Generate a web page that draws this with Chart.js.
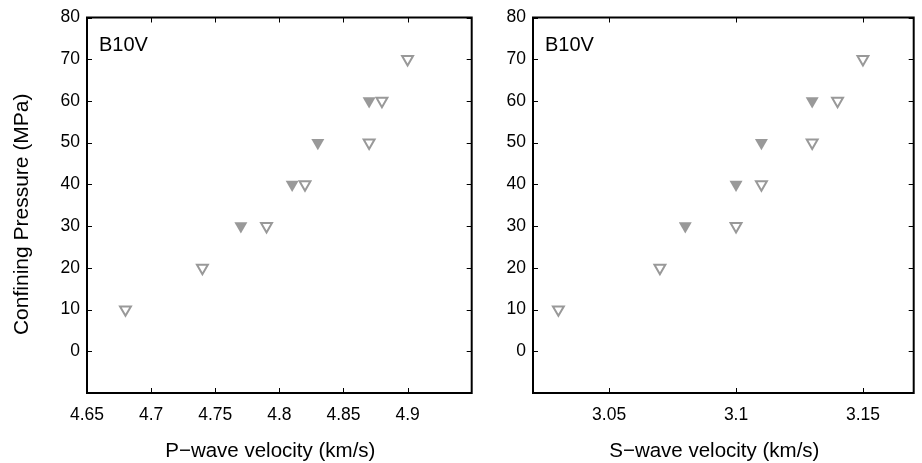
<!DOCTYPE html>
<html>
<head>
<meta charset="utf-8">
<script src="https://cdn.jsdelivr.net/npm/chart.js@4/dist/chart.umd.min.js"></script>
<style>
  html, body { margin: 0; padding: 0; background: #fff; }
  #wrap { position: relative; width: 922px; height: 463px; }
  #left { position: absolute; left: 0; top: 0; }
  #right { position: absolute; left: 480px; top: 0; }
</style>
</head>
<body>
<div id="wrap">
  <canvas id="left" width="480" height="463"></canvas>
  <canvas id="right" width="442" height="463"></canvas>
</div>
<script>
// values
const pressureFilled = [30, 40, 50, 60];
const pressureOpen = [10, 20, 30, 40, 50, 60, 70];
const vpFilled = [4.77, 4.81, 4.83, 4.87];
const vpOpen = [4.68, 4.74, 4.79, 4.82, 4.87, 4.88, 4.90];
const vsFilled = [3.08, 3.10, 3.11, 3.13];
const vsOpen = [3.03, 3.07, 3.10, 3.11, 3.13, 3.14, 3.15];

const pressureTicks = [0, 10, 20, 30, 40, 50, 60, 70, 80];
const vpTicks = [4.65, 4.7, 4.75, 4.8, 4.85, 4.9];
const vsTicks = [3.05, 3.1, 3.15];
const sampleLabel = "B10V";
const yTitle = "Confining Pressure (MPa)";

const grey = "#999999";
const font = "'Liberation Sans', Arial, Helvetica, sans-serif";

function pts(xs, ys) {
  return xs.map((x, i) => ({ x: x, y: ys[i] }));
}

// box + inward ticks on all four sides, sample label and axis titles
const framePlugin = {
  id: "frame",
  afterDraw(chart, args, opts) {
    const ctx = chart.ctx;
    const a = chart.chartArea;
    const xs = chart.scales.x, ys = chart.scales.y;
    const len = 5;
    ctx.save();
    ctx.strokeStyle = "#000";
    ctx.lineWidth = 1;
    ctx.beginPath();
    xs.ticks.forEach((t) => {
      const px = Math.round(xs.getPixelForValue(t.value)) + 0.5;
      ctx.moveTo(px, a.bottom); ctx.lineTo(px, a.bottom - len);
      ctx.moveTo(px, a.top); ctx.lineTo(px, a.top + len);
    });
    ys.ticks.forEach((t) => {
      const py = Math.round(ys.getPixelForValue(t.value)) + 0.5;
      ctx.moveTo(a.left, py); ctx.lineTo(a.left + len, py);
      ctx.moveTo(a.right, py); ctx.lineTo(a.right - len, py);
    });
    ctx.stroke();
    ctx.lineWidth = 2;
    ctx.strokeRect(a.left, a.top, a.right - a.left, a.bottom - a.top);

    ctx.fillStyle = "#000";
    ctx.textBaseline = "middle";
    ctx.textAlign = "left";
    ctx.font = "20px " + font;
    ctx.fillText(sampleLabel, a.left + 12, a.top + 28);

    ctx.textAlign = "center";
    ctx.font = "20.5px " + font;
    ctx.fillText(opts.xTitle, (a.left + a.right) / 2 - 9, 451);
    if (opts.yTitle) {
      ctx.font = "21px " + font;
      ctx.translate(22, (a.top + a.bottom) / 2 + 9);
      ctx.rotate(-Math.PI / 2);
      ctx.fillText(opts.yTitle, 0, 0);
    }
    ctx.restore();
  },
};

function makeChart(id, xFilled, xOpen, xTicks, xMin, xMax, xTitle, yWidth, showYTitle) {
  return new Chart(document.getElementById(id), {
    type: "scatter",
    data: {
      datasets: [
        {
          data: pts(xFilled, pressureFilled),
          pointStyle: "triangle",
          rotation: 180,
          pointRadius: 7.5,
          backgroundColor: grey,
          borderColor: grey,
          borderWidth: 0,
        },
        {
          data: pts(xOpen, pressureOpen),
          pointStyle: "triangle",
          rotation: 180,
          pointRadius: 6.3,
          backgroundColor: "#fff",
          borderColor: grey,
          borderWidth: 2,
        },
      ],
    },
    options: {
      responsive: false,
      animation: false,
      events: [],
      layout: { padding: { top: 17, right: 5, left: 0, bottom: 0 } },
      plugins: {
        legend: { display: false },
        tooltip: { enabled: false },
        frame: { xTitle: xTitle, yTitle: showYTitle ? yTitle : "" },
      },
      scales: {
        x: {
          type: "linear",
          min: xMin,
          max: xMax,
          grid: { display: false, drawTicks: false },
          border: { display: false },
          afterBuildTicks: (s) => { s.ticks = xTicks.map((v) => ({ value: v })); },
          afterFit: (s) => { s.height = 70; },
          ticks: {
            padding: 12,
            color: "#000",
            maxRotation: 0,
            autoSkip: false,
            font: { family: font, size: 17.5 },
            callback: (v) => String(Number(v.toFixed(2))),
          },
        },
        y: {
          min: -10,
          max: 80,
          grid: { display: false, drawTicks: false },
          border: { display: false },
          afterBuildTicks: (s) => { s.ticks = pressureTicks.map((v) => ({ value: v })); },
          afterFit: (s) => { s.width = yWidth; },
          ticks: {
            padding: 7,
            color: "#000",
            autoSkip: false,
            font: { family: font, size: 17.5 },
          },
        },
      },
    },
    plugins: [framePlugin],
  });
}

makeChart("left", vpFilled, vpOpen, vpTicks, 4.65, 4.95, "P\u2212wave velocity (km/s)", 87, true);
makeChart("right", vsFilled, vsOpen, vsTicks, 3.02, 3.17, "S\u2212wave velocity (km/s)", 53, false);
</script>
</body>
</html>
